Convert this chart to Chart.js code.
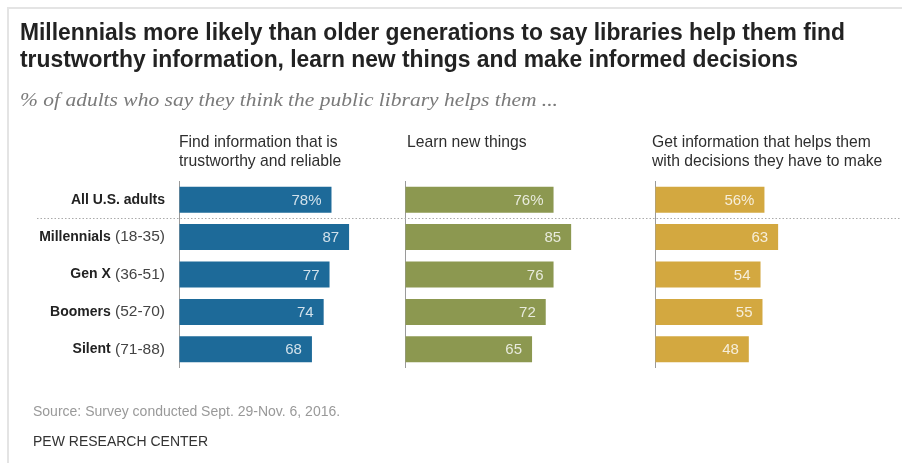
<!DOCTYPE html>
<html>
<head>
<meta charset="utf-8">
<script src="https://cdn.jsdelivr.net/npm/chart.js@4.4.1/dist/chart.umd.min.js"></script>
<style>
  html, body { margin: 0; padding: 0; background: #fff; }
  body { width: 902px; height: 463px; position: relative; overflow: hidden;
         font-family: "Liberation Sans", Arial, sans-serif; color: #333; }
  .frame { position: absolute; left: 7px; top: 7px; width: 895px; height: 456px;
           border-top: 2px solid #e4e4e4; border-left: 2px solid #e4e4e4; }
  #chart { position: absolute; left: 0; top: 0; }
  .title { position: absolute; left: 20px; top: 19px; line-height: 27px; color: #222;
           font: bold 23px "Liberation Sans Narrow", "Liberation Sans", Arial, sans-serif;
           white-space: nowrap; transform-origin: 0 0; }
  .subtitle { position: absolute; left: 20px; top: 90px; line-height: 22px; color: #7a7a7a;
              font: italic 18.5px "Liberation Serif", Georgia, serif;
              white-space: nowrap; transform-origin: 0 0; }
  .head { position: absolute; top: 132px; font-size: 15.7px; line-height: 19px;
          color: #2e2e2e; white-space: nowrap; }
  .source { position: absolute; left: 33px; top: 402px; font-size: 14px; line-height: 18px; color: #999; }
  .pew { position: absolute; left: 33px; top: 432px; font-size: 14px; line-height: 18px; color: #333; }
</style>
</head>
<body>
<div class="frame"></div>
<canvas id="chart" width="902" height="463"></canvas>
<div class="title" id="title">Millennials more likely than older generations to say libraries help them find<br>trustworthy information, learn new things and make informed decisions</div>
<div class="subtitle" id="subtitle">% of adults who say they think the public library helps them ...</div>
<div class="head" style="left:179px">Find information that is<br>trustworthy and reliable</div>
<div class="head" style="left:407px">Learn new things</div>
<div class="head" style="left:652px">Get information that helps them<br>with decisions they have to make</div>
<div class="source">Source: Survey conducted Sept. 29-Nov. 6, 2016.</div>
<div class="pew">PEW RESEARCH CENTER</div>

<script>
const categories = ['All U.S. adults', 'Millennials', 'Gen X', 'Boomers', 'Silent'];
const ageRanges = ['', '(18-35)', '(36-51)', '(52-70)', '(71-88)'];
const trustworthyInfo = [78, 87, 77, 74, 68];
const learnNewThings = [76, 85, 76, 72, 65];
const decisionInfo = [56, 63, 54, 55, 48];

// squeeze the headline text to the width it has in the original
function fitWidth(id, target) {
    const el = document.getElementById(id);
    const w = el.getBoundingClientRect().width;
    el.style.transform = 'scaleX(' + (target / w) + ')';
}
fitWidth('title', 825);
fitWidth('subtitle', 538);

const FONT = '"Liberation Sans", Arial, sans-serif';

const annotate = {
    id: 'annotate',
    afterDatasetsDraw(chart) {
        const ctx = chart.ctx;
        const y = chart.scales.y;
        ctx.save();
        ctx.textBaseline = 'middle';
        ctx.textAlign = 'right';

        // row labels: bold name + regular age range
        categories.forEach((name, i) => {
            const py = y.getPixelForValue(i);
            let x = chart.chartArea.left - 14;
            if (ageRanges[i]) {
                ctx.font = '15.5px ' + FONT;
                ctx.fillStyle = '#444';
                ctx.fillText(ageRanges[i], x, py);
                x -= ctx.measureText(' ' + ageRanges[i]).width;
            }
            ctx.font = 'bold 14px ' + FONT;
            ctx.fillStyle = '#222';
            ctx.fillText(name, x, py);
        });

        // values inside the bars
        ctx.font = '15px ' + FONT;
        ctx.fillStyle = 'rgba(255,255,255,0.8)';
        chart.data.datasets.forEach((ds, d) => {
            chart.getDatasetMeta(d).data.forEach((bar, i) => {
                ctx.fillText(ds.data[i] + (i === 0 ? '%' : ''), bar.x - 10, bar.y + 1);
            });
        });

        // dotted line under "All U.S. adults"
        const sy = Math.round((y.getPixelForValue(0) + y.getPixelForValue(1)) / 2) + 0.5;
        ctx.strokeStyle = '#aaa';
        ctx.lineWidth = 1;
        ctx.setLineDash([1.5, 2]);
        ctx.beginPath();
        ctx.moveTo(37, sy);
        ctx.lineTo(chart.width - 2, sy);
        ctx.stroke();
        ctx.restore();
    }
};

function panelAxis(max, weight) {
    return {
        type: 'linear',
        position: 'bottom',
        stack: 'cols',
        stackWeight: weight,
        min: 0,
        max: max,
        ticks: { display: false },
        border: { display: false },
        grid: {
            drawTicks: false,
            lineWidth: 1,
            color: c => (c.tick && c.tick.value === 0) ? '#9a9a9a' : 'rgba(0,0,0,0)'
        }
    };
}

new Chart(document.getElementById('chart'), {
    type: 'bar',
    data: {
        labels: categories,
        datasets: [
            { data: trustworthyInfo, xAxisID: 'x1', backgroundColor: '#1d6a99' },
            { data: learnNewThings, xAxisID: 'x2', backgroundColor: '#8c9850' },
            { data: decisionInfo, xAxisID: 'x3', backgroundColor: '#d3a840' }
        ]
    },
    options: {
        indexAxis: 'y',
        responsive: false,
        animation: false,
        devicePixelRatio: 1,
        layout: { padding: { left: 179, right: 7, top: 181, bottom: 95 } },
        datasets: { bar: { grouped: false, maxBarThickness: 26 } },
        plugins: {
            legend: { display: false },
            tooltip: { enabled: false },
            title: { display: false }
        },
        scales: {
            y: { type: 'category', display: false },
            x1: panelAxis(115.6, 226),
            x2: panelAxis(127.9, 250),
            x3: panelAxis(122.8, 240)
        }
    },
    plugins: [annotate]
});
</script>
</body>
</html>
